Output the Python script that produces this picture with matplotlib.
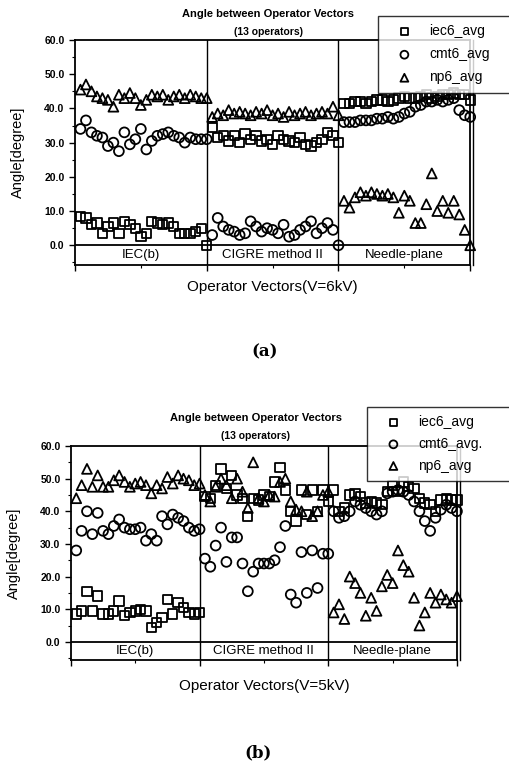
import numpy as np
import matplotlib
matplotlib.use('Agg')
import matplotlib.pyplot as plt
from matplotlib.ticker import MultipleLocator, FixedLocator
from matplotlib.lines import Line2D

plt.rcParams['font.family'] = ['Liberation Sans', 'DejaVu Sans']

## Groups of operator vectors (24 points per group)
groups = ['IEC(b)', 'CIGRE method II', 'Needle-plane']
n_per_group = 24
yticks = [0, 10, 20, 30, 40, 50, 60]

## (a) V=6kV
iec6_a = ([8.5, 8, 6, 6.5, 3.5, 5.5, 6.5, 3.5, 7, 6, 5, 2.5, 3.5, 7, 6.5, 6, 6.5, 5.5, 3.5, 3.5, 3.5, 4, 5, 0]
          + [34.5, 31.5, 32, 30.5, 32, 30, 32.5, 31, 32, 30.5, 31, 29.5, 32, 31, 30.5, 30, 31.5, 29.5, 29, 30, 31, 33, 32, 30]
          + [41.5, 41.5, 42, 42, 41.5, 42, 42.5, 42.5, 42, 42.5, 43, 43.5, 43, 43, 43.5, 44, 43, 43.5, 44, 44, 44.5, 44, 44, 42.5])
cmt6_a = ([34, 36.5, 33, 32, 31.5, 29, 30, 27.5, 33, 29.5, 31, 34, 28, 30.5, 32, 32.5, 33, 32, 31.5, 30, 31.5, 31, 31, 31]
          + [3, 8, 5.5, 4.5, 4, 3, 3.5, 7, 5.5, 4, 5, 4.5, 3.5, 6, 2.5, 3, 4.5, 5.5, 7, 3.5, 5, 6.5, 4.5, 0]
          + [36, 36, 36, 36.5, 36.5, 36.5, 37, 37, 37.5, 37, 37.5, 38.5, 39, 40.5, 41, 42, 42, 42.5, 42, 42.5, 43, 39.5, 38, 37.5])
np6_a = ([45.5, 47, 45, 43.5, 43, 42.5, 40.5, 44, 43, 44.5, 43, 41, 42.5, 44, 43.5, 44, 42.5, 43.5, 44, 43, 44, 43.5, 43, 43]
         + [37.5, 38.5, 38, 39.5, 38.5, 39, 38.5, 38, 39, 38.5, 39.5, 38, 38.5, 37.5, 39, 38, 38.5, 39, 38, 38.5, 39, 38.5, 40.5, 38]
         + [13, 11, 14, 15.5, 14.5, 15.5, 15, 14.5, 15, 14, 9.5, 14.5, 13, 6.5, 6.5, 12, 21, 10, 13, 9.5, 13, 9, 4.5, 0])

## (b) V=5kV
iec6_b = ([8.5, 9.5, 15.5, 9.5, 14, 8.5, 8.5, 9.5, 12.5, 8, 9, 9.5, 10, 9.5, 4.5, 6, 7.5, 13, 8.5, 12, 10.5, 9, 8.5, 9]
          + [44.5, 44, 48, 53, 47, 51, 45, 44, 38.5, 44, 43.5, 45, 44.5, 49, 53.5, 46.5, 40, 37, 46.5, 39, 46.5, 40, 46.5, 43]
          + [46.5, 40, 41, 45, 45.5, 44.5, 42.5, 43, 42.5, 42, 46, 48, 46, 49, 47.5, 47, 44, 42.5, 42, 40, 43.5, 44, 43.5, 43.5])
cmt6_b = ([28, 34, 40, 33, 39.5, 34, 33, 35.5, 37.5, 35, 34.5, 34.5, 35, 31, 33, 31, 38.5, 36, 39, 38, 37, 35, 34, 34.5]
          + [25.5, 23, 29.5, 35, 24.5, 32, 32, 24, 15.5, 21.5, 24, 24, 24, 25, 29, 35.5, 14.5, 12, 27.5, 15, 28, 16.5, 27, 27]
          + [40, 38, 38.5, 40, 43, 42, 41, 40, 39, 40, 45.5, 46, 46.5, 46, 45, 43, 40, 37, 34, 38, 40.5, 42, 41, 40])
np6_b = ([44, 48, 53, 47.5, 51, 47.5, 47.5, 49.5, 51, 49, 47.5, 48.5, 49, 48, 45.5, 48, 47, 50.5, 48.5, 51, 50, 49.5, 48, 48.5]
         + [45, 43, 47.5, 50, 48, 44, 50, 46, 41, 55, 44, 43, 45, 44.5, 49, 50, 43, 40.5, 40, 46, 38.5, 40, 45, 46]
         + [9, 11.5, 7, 20, 18, 15, 8, 13.5, 9.5, 17, 20.5, 18, 28, 23.5, 21.5, 13.5, 5, 9, 15, 12, 14.5, 13, 12, 14])

labels_a = ['iec6_avg', 'cmt6_avg', 'np6_avg']
labels_b = ['iec6_avg', 'cmt6_avg.', 'np6_avg']


def draw(fig, rect, iec, cmt, npv, ylo, labels, leg_box, title_xy, volt, xpad, lspace):
    ax = fig.add_axes(rect)
    x = np.concatenate([k + np.arange(1, n_per_group + 1) / n_per_group for k in range(3)])
    kw = dict(facecolors='none', edgecolors='black', linewidths=1.3, clip_on=False, zorder=3)
    ax.scatter(x, iec, marker='s', s=45, label=labels[0], **kw)
    ax.scatter(x, cmt, marker='o', s=50, label=labels[1], **kw)
    ax.scatter(x, npv, marker='^', s=50, label=labels[2], **kw)
    ax.set_xlim(0, 3)
    ax.set_ylim(ylo, 60)
    ax.axhline(0, color='black', lw=1.3)
    for d in (1, 2):
        ax.axvline(d, color='black', lw=1.0)
    ax.add_line(Line2D([3.02, 3.02], [ylo, 60], color='black', lw=1.0, clip_on=False))
    for k, g in enumerate(groups):
        ax.text(k + 0.5, ylo / 2, g, ha='center', va='center', fontsize=9.5)
    ax.yaxis.set_major_locator(FixedLocator(yticks))
    ax.set_yticklabels(['%.1f' % t for t in yticks], fontsize=7.5, fontweight='bold')
    ax.yaxis.set_minor_locator(MultipleLocator(5))
    ax.xaxis.set_major_locator(MultipleLocator(1))
    ax.xaxis.set_minor_locator(MultipleLocator(0.5))
    ax.set_xticklabels([])
    ax.tick_params(direction='out', length=4, width=1.0)
    ax.tick_params(which='minor', direction='out', length=2, width=0.8)
    for s in ax.spines.values():
        s.set_linewidth(1.3)
    ax.set_ylabel('Angle[degree]', fontsize=10.5, labelpad=14)
    ax.set_xlabel('Operator Vectors(V=%s)' % volt, fontsize=11, labelpad=xpad)
    fig.text(title_xy[0], title_xy[1], 'Angle between Operator Vectors', ha='center', va='center',
             fontsize=8, fontweight='bold')
    fig.text(title_xy[0], title_xy[1] - 0.023, '(13 operators)', ha='center', va='center',
             fontsize=7.5, fontweight='bold')
    # legend box in pixels: left, top, right (runs past the figure edge as in the scan)
    x0, y0, x1 = leg_box
    W, H = fig.bbox.width, fig.bbox.height
    leg = ax.legend(loc='upper left', bbox_to_anchor=(x0 / W, 1 - y0 / H - 0.01, (x1 - x0) / W, 0.01),
                    bbox_transform=fig.transFigure, mode='expand',
                    fontsize=10, frameon=True, fancybox=False, borderpad=0.6, labelspacing=lspace,
                    handlelength=2.6, handletextpad=0.5, borderaxespad=0, markerscale=0.8)
    leg.get_frame().set_edgecolor('black')
    leg.get_frame().set_linewidth(1.0)
    leg.set_zorder(5)
    return ax


fig = plt.figure(figsize=(5.10, 7.69), dpi=100)

draw(fig, [0.147, 0.655, 0.775, 0.293], iec6_a, cmt6_a, np6_a, -5.85, labels_a,
     (378, 16, 520), (268 / 510, 1 - 14 / 769), '6kV', 3, 0.65)
draw(fig, [0.139, 0.142, 0.757, 0.278], iec6_b, cmt6_b, np6_b, -5.5, labels_b,
     (367, 407, 520), (256 / 510, 1 - 418 / 769), '5kV', 6, 0.55)

fig.text(265 / 510, 1 - 352 / 769, '(a)', ha='center', va='center', fontsize=12,
         fontweight='bold', family='DejaVu Serif')
fig.text(258 / 510, 1 - 753 / 769, '(b)', ha='center', va='center', fontsize=12,
         fontweight='bold', family='DejaVu Serif')

fig.savefig('out.png', dpi=100)
